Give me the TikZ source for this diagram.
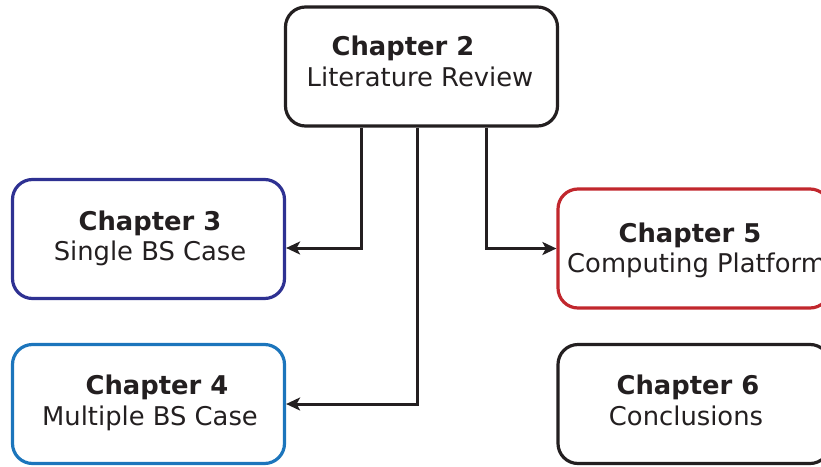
\documentclass[tikz,border=0pt]{standalone}
\usepackage{fontspec}
\setmainfont{DejaVu Sans}
\usetikzlibrary{arrows.meta}
\definecolor{ink}{HTML}{231F20}
\definecolor{cthree}{HTML}{2E3192}
\definecolor{cfour}{HTML}{1C75BC}
\definecolor{cfive}{HTML}{C1272D}
\tikzset{
  box/.style={draw, line width=3.2pt, rounded corners=20pt, minimum width=272pt, minimum height=119pt, inner sep=0pt},
  ttl/.style={anchor=base, font=\fontsize{25.8}{30}\selectfont\bfseries, text=ink, inner sep=0pt},
  sub/.style={anchor=base, font=\fontsize{25.8}{30}\selectfont, text=ink, inner sep=0pt},
  arr/.style={draw=ink, line width=3pt, -{Stealth[length=14pt,width=13pt,inset=3.5pt]}}
}
\begin{document}
\begin{tikzpicture}[x=1pt,y=-1pt]
\useasboundingbox (0,0) rectangle (821,466);
\clip (0,0) rectangle (821,466);
\node[box, draw=ink] (ch2) at (421.5,66.5) {};
\node[box, draw=cthree] (ch3) at (148.5,239) {};
\node[box, draw=cfour] (ch4) at (148.5,404) {};
\node[box, draw=cfive] (ch5) at (694,248.5) {};
\node[box, draw=ink] (ch6) at (694,404) {};
\node[ttl] (t2) at (403,55) {Chapter 2};
\node[sub] (s2) at (420,86) {Literature Review};
\node[ttl] (t3) at (150,230) {Chapter 3};
\node[sub] (s3) at (150,260) {Single BS Case};
\node[ttl] (t4) at (157,394) {Chapter 4};
\node[sub] (s4) at (150,425) {Multiple BS Case};
\node[ttl] (t5) at (690,242) {Chapter 5};
\node[sub, anchor=base west] (s5) at (567,272) {Computing Platform};
\node[ttl] (t6) at (688,394) {Chapter 6};
\node[sub] (s6) at (686,425) {Conclusions};
\draw[arr] ([xshift=-60.5pt]ch2.south) |- ([yshift=-9pt]ch3.east);
\draw[arr] ([xshift=-4.5pt]ch2.south) |- (ch4.east);
\draw[arr] ([xshift=64.5pt]ch2.south) |- (ch5.west);
\end{tikzpicture}
\end{document}
